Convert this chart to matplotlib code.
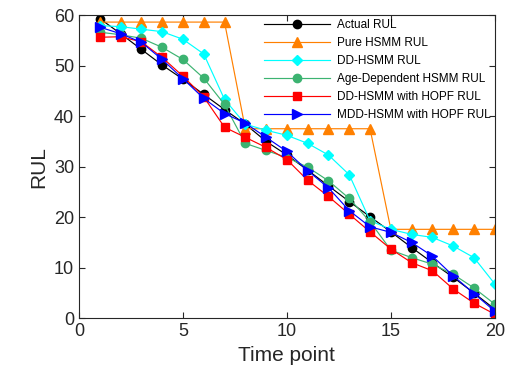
import matplotlib
matplotlib.use("Agg")
import matplotlib.pyplot as plt

# time points and RUL estimates
time_points = list(range(1, 21))
actual_rul = [59.3, 56.3, 53.2, 50.1, 47.3, 44.3, 41.3, 38.4, 35.0, 32.3,
              29.3, 26.2, 23.1, 20.1, 17.1, 14.0, 11.0, 8.1, 5.0, 1.8]
pure_hsmm = [58.6, 58.6, 58.6, 58.6, 58.6, 58.6, 58.6, 37.5, 37.5, 37.5,
             37.5, 37.5, 37.5, 37.5, 17.6, 17.6, 17.6, 17.6, 17.6, 17.6]
dd_hsmm = [57.9, 57.7, 57.2, 56.7, 55.2, 52.3, 43.3, 38.4, 37.2, 36.2,
           34.6, 32.3, 28.4, 19.3, 17.6, 16.6, 16.0, 14.3, 12.0, 6.8]
age_hsmm = [56.6, 56.1, 55.4, 53.6, 51.2, 47.5, 42.3, 34.6, 33.2, 31.8,
            29.9, 27.2, 23.7, 19.1, 13.5, 12.0, 10.7, 8.7, 6.0, 2.8]
dd_hopf = [55.6, 55.7, 54.7, 51.6, 47.9, 43.8, 37.8, 35.8, 33.8, 31.4,
           27.3, 24.1, 20.6, 17.1, 13.7, 11.0, 9.4, 5.8, 3.0, 0.8]
mdd_hopf = [57.6, 56.3, 54.6, 51.2, 47.4, 43.5, 40.5, 38.6, 35.8, 33.0,
            29.2, 25.8, 21.3, 18.1, 17.0, 15.0, 12.3, 8.4, 4.9, 1.4]

labels = ["Actual RUL", "Pure HSMM RUL", "DD-HSMM RUL",
          "Age-Dependent HSMM RUL", "DD-HSMM with HOPF RUL",
          "MDD-HSMM with HOPF RUL"]
series = [actual_rul, pure_hsmm, dd_hsmm, age_hsmm, dd_hopf, mdd_hopf]
colors = ["black", "#ff8000", "cyan", "mediumseagreen", "red", "blue"]
markers = ["o", "^", "D", "o", "s", ">"]
msizes = [6, 7, 5.5, 6, 5.5, 7]

plt.rcParams["font.family"] = ["Liberation Sans", "DejaVu Sans"]

fig = plt.figure(figsize=(5.08, 3.81), dpi=100)
ax = fig.add_axes([0.1555, 0.1646, 0.8185, 0.796])

for y, lab, c, m, ms in zip(series, labels, colors, markers, msizes):
    ax.plot(time_points, y, color=c, marker=m, markersize=ms, lw=0.85,
            label=lab)

ax.set_xlim(0, 20)
ax.set_ylim(0, 60)
ax.set_xticks([0, 5, 10, 15, 20])
ax.set_yticks([0, 10, 20, 30, 40, 50, 60])
ax.tick_params(direction="in", top=True, right=True, labelsize=13,
               colors="#262626", length=4)
for sp in ax.spines.values():
    sp.set_color("#262626")
ax.set_xlabel("Time point", fontsize=15, color="#262626")
ax.set_ylabel("RUL", fontsize=15, color="#262626")

ax.legend(loc="upper right", frameon=False, fontsize=8.5, handlelength=5.6,
          labelspacing=0.5, borderaxespad=0.1, handletextpad=0.6,
          borderpad=0.25)

fig.savefig("out.png", dpi=100)
